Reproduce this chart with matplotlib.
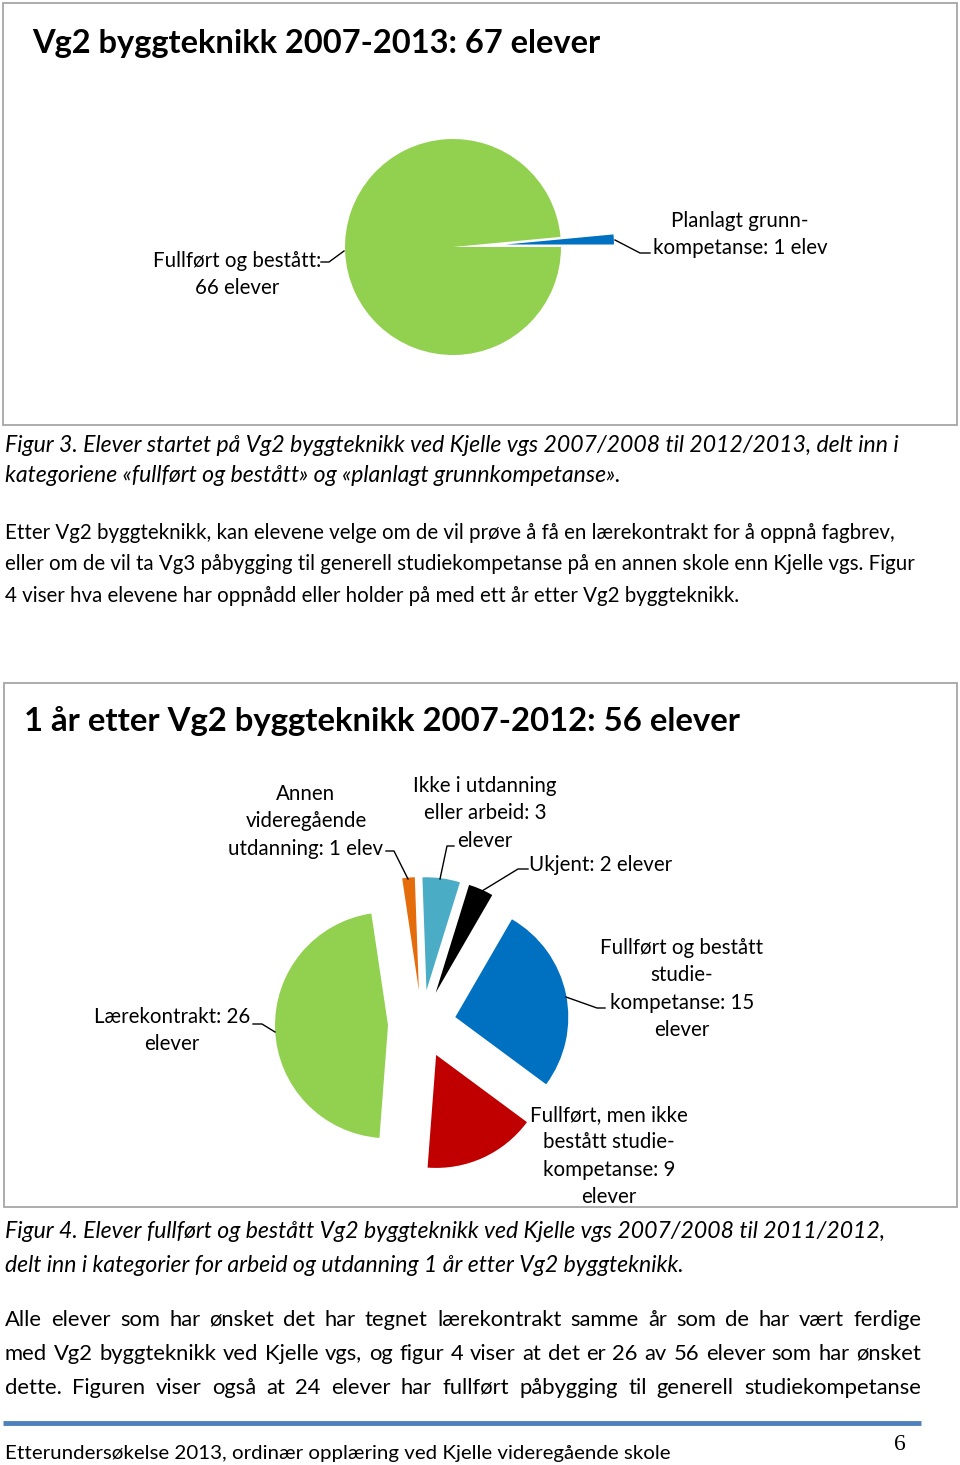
import matplotlib.pyplot as plt
from matplotlib.patches import Rectangle

W, H = 960, 1465
plt.rcParams['font.family'] = ['Lato', 'DejaVu Sans']

# --- figur 3 ---
fig3_title = 'Vg2 byggteknikk 2007-2013: 67 elever'
fig3_values = [66, 1]
fig3_colors = ['#92d050', '#0070c0']
fig3_labels = [['Fullført og bestått:', '66 elever'],
               ['Planlagt grunn-', 'kompetanse: 1 elev']]

# --- figur 4 ---
fig4_title = '1 år etter Vg2 byggteknikk 2007-2012: 56 elever'
fig4_values = [1, 3, 2, 15, 9, 26]
fig4_colors = ['#e46c0a', '#4bacc6', '#000000', '#0070c0', '#c00000', '#92d050']
fig4_labels = [['Annen', 'videregående', 'utdanning: 1 elev'],
               ['Ikke i utdanning', 'eller arbeid: 3', 'elever'],
               ['Ukjent: 2 elever'],
               ['Fullført og bestått', 'studie-', 'kompetanse: 15', 'elever'],
               ['Fullført, men ikke', 'bestått studie-', 'kompetanse: 9', 'elever'],
               ['Lærekontrakt: 26', 'elever']]

caption3 = ['Figur 3. Elever startet på Vg2 byggteknikk ved Kjelle vgs 2007/2008 til 2012/2013, delt inn i',
            'kategoriene «fullført og bestått» og «planlagt grunnkompetanse».']
para1 = ['Etter Vg2 byggteknikk, kan elevene velge om de vil prøve å få en lærekontrakt for å oppnå fagbrev,',
         'eller om de vil ta Vg3 påbygging til generell studiekompetanse på en annen skole enn Kjelle vgs. Figur',
         '4 viser hva elevene har oppnådd eller holder på med ett år etter Vg2 byggteknikk.']
caption4 = ['Figur 4. Elever fullført og bestått Vg2 byggteknikk ved Kjelle vgs 2007/2008 til 2011/2012,',
            'delt inn i kategorier for arbeid og utdanning 1 år etter Vg2 byggteknikk.']
para2 = ['Alle elever som har ønsket det har tegnet lærekontrakt samme år som de har vært ferdige',
         'med Vg2 byggteknikk ved Kjelle vgs, og figur 4 viser at det er 26 av 56 elever som har ønsket',
         'dette. Figuren viser også at 24 elever har fullført påbygging til generell studiekompetanse']
footer = 'Etterundersøkelse 2013, ordinær opplæring ved Kjelle videregående skole'
page_no = '6'

fig = plt.figure(figsize=(W / 100, H / 100), dpi=100)
ax = fig.add_axes([0, 0, 1, 1])
r = fig.canvas.get_renderer()


def Y(y):
    return H - y


def put(x, y, s, size, **kw):
    # small shift so the visual middle of the glyphs lands on y
    return ax.text(x, Y(y + 2), s, fontsize=size, va='center', **kw)


def width_of(s, size, **kw):
    t = ax.text(0, 0, s, fontsize=size, **kw)
    w = t.get_window_extent(r).width
    t.remove()
    return w


def fit_size(s, target, **kw):
    return 20 * target / width_of(s, 20, **kw)


def block(lines, x, y0, step, size, **kw):
    for i, s in enumerate(lines):
        put(x, y0 + i * step, s, size, **kw)


def justify(line, y, x0, x1, size):
    words = line.split()
    ws = [width_of(w, size) for w in words]
    gap = (x1 - x0 - sum(ws)) / (len(words) - 1)
    x = x0
    for w, wd in zip(words, ws):
        put(x, y, w, size, ha='left')
        x += wd + gap


def leader(pts):
    ax.plot([p[0] for p in pts], [Y(p[1]) for p in pts], color='black', lw=1.0)


# chart frames
ax.add_patch(Rectangle((3, Y(425)), 954, 422, fill=False, ec='#a6a6a6', lw=1.3))
ax.add_patch(Rectangle((4, Y(1207)), 953, 1207 - 683, fill=False, ec='#a6a6a6', lw=1.3))

# pies
ax.pie(fig3_values, colors=fig3_colors, startangle=0, counterclock=False,
       radius=108, center=(453, Y(247)), explode=[0, 53], frame=True,
       wedgeprops=dict(linewidth=0))
ax.pie(fig4_values, colors=fig4_colors, startangle=98.5, counterclock=False,
       radius=113, center=(422, Y(1024)), explode=[34] * len(fig4_values), frame=True,
       wedgeprops=dict(linewidth=0))
ax.set_xlim(0, W)
ax.set_ylim(0, H)
ax.axis('off')

# titles
put(32, 42, fig3_title, fit_size(fig3_title, 569, weight='bold'), weight='bold', ha='left')
put(24, 719, fig4_title, fit_size(fig4_title, 717, weight='bold'), weight='bold', ha='left')

# pie labels
lab = fit_size(fig3_labels[0][0], 168)
for lines, (x, y) in zip(fig3_labels, [(237, 259), (740, 219)]):
    block(lines, x, y, 27, lab, ha='center')
leader([(321, 262), (329, 262), (344, 251)])
leader([(615, 240), (640, 253), (650, 253)])

pos4 = [(306, 792), (485, 784), (601, 863), (682, 946), (609, 1113), (172, 1015)]
for lines, (x, y) in zip(fig4_labels, pos4):
    block(lines, x, y, 27.3, lab, ha='center')
leader([(386, 851), (394, 851), (408, 879)])
leader([(454, 846), (447, 846), (440, 879)])
leader([(528, 869), (518, 869), (482, 891)])
leader([(566, 997), (597, 1008), (605, 1008)])
leader([(253, 1024), (262, 1024), (275, 1032)])

# captions and body text
cap = fit_size(caption3[0], 893, style='italic')
block(caption3, 5, 443, 30, cap, ha='left', style='italic')
body = fit_size(para1[0], 892)
block(para1, 5, 531, 31.5, body, ha='left')
cap4 = fit_size(caption4[0], 879, style='italic')
block(caption4, 5, 1230, 34, cap4, ha='left', style='italic')
body2 = min(fit_size(line, 898) for line in para2)
for i, line in enumerate(para2):
    justify(line, 1318 + i * 34, 5, 921, body2)

# footer
ax.plot([3, 921], [Y(1423)] * 2, color='#4f81bd', lw=3.5, solid_capstyle='butt')
put(5, 1451, footer, fit_size(footer, 667), ha='left')
put(900, 1443, page_no, 17, ha='center', family='Liberation Serif')

fig.savefig('out.png', dpi=100)
